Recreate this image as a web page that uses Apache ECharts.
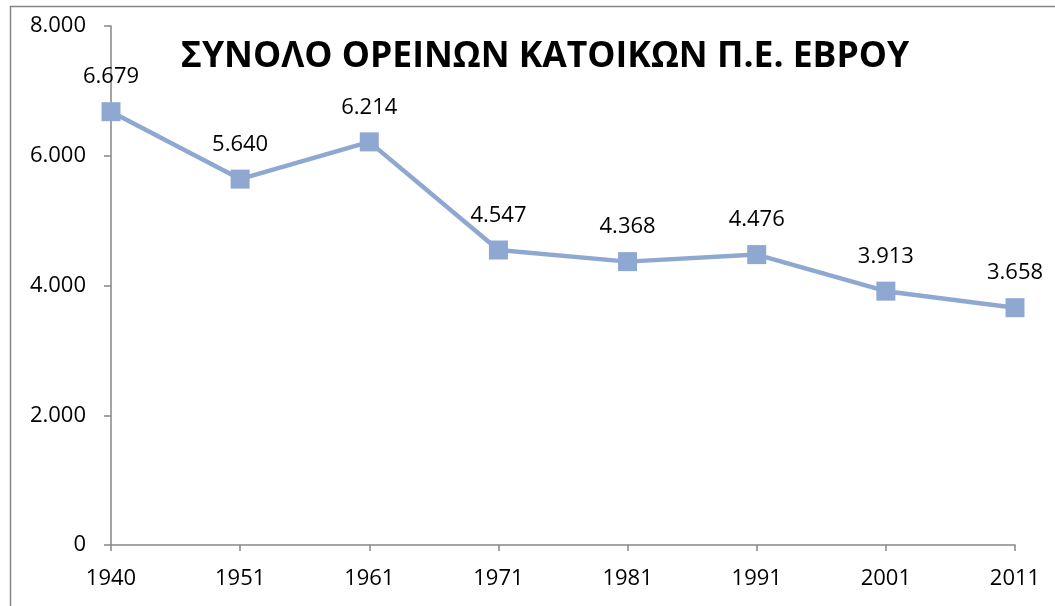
<!DOCTYPE html>
<html>
<head>
<meta charset="UTF-8">
<script type="text/javascript" src="https://cdn.jsdelivr.net/npm/echarts@6/dist/echarts.min.js"></script>
<title>ΣΥΝΟΛΟ ΟΡΕΙΝΩΝ ΚΑΤΟΙΚΩΝ</title>
<style>
	html, body { margin: 0; padding: 0; background: #fff; }
	#main { width: 1055px; height: 606px; }
</style>
<script>
	var years = ['1940', '1951', '1961', '1971', '1981', '1991', '2001', '2011'];
	var residents = [6679, 5640, 6214, 4547, 4368, 4476, 3913, 3658];
	var yTicks = [0, 2000, 4000, 6000, 8000];

	// 8000 -> 8.000 (Greek thousands separator)
	function fmt(v) {
		return String(v).replace(/\B(?=(\d{3})+(?!\d))/g, '.');
	}
</script>
</head>
<body>
<div id="main"></div>
<script>
	var myChart = echarts.init(document.getElementById('main'), null, { renderer: 'canvas' });
	var font = '"Open Sans", "DejaVu Sans", sans-serif';

	myChart.setOption({
		animation: false,
		textStyle: { fontFamily: font },
		title: {
			text: 'ΣΥΝΟΛΟ ΟΡΕΙΝΩΝ ΚΑΤΟΙΚΩΝ Π.Ε. ΕΒΡΟΥ',
			left: 540,
			textAlign: 'center',
			top: 34,
			textStyle: { fontFamily: font, fontWeight: 'bold', fontSize: 35.5, color: '#000' }
		},
		graphic: [{
			type: 'rect',
			shape: { x: 10.5, y: 6.5, width: 1060, height: 620 },
			style: { fill: null, stroke: '#868686', lineWidth: 1.5 },
			silent: true
		}],
		grid: {
			left: 111,
			right: 40,
			top: 26,
			bottom: 61
		},
		xAxis: {
			type: 'category',
			data: years,
			boundaryGap: false,
			axisLine: { lineStyle: { color: '#868686', width: 1.5 } },
			axisTick: { show: true, alignWithLabel: true, length: 6, lineStyle: { color: '#868686', width: 1.5 } },
			axisLabel: { color: '#000', fontSize: 22, margin: 23, fontFamily: font }
		},
		yAxis: {
			type: 'value',
			min: yTicks[0],
			max: yTicks[yTicks.length - 1],
			interval: 2000,
			splitLine: { show: false },
			axisLine: { show: true, lineStyle: { color: '#868686', width: 1.5 } },
			axisTick: { show: true, length: 7, lineStyle: { color: '#868686', width: 1.5 } },
			axisLabel: { color: '#000', fontSize: 22, margin: 25, fontFamily: font, formatter: fmt }
		},
		series: [{
			type: 'line',
			data: residents,
			symbol: 'rect',
			symbolSize: 19,
			lineStyle: { color: '#8EA8D2', width: 4.5 },
			itemStyle: { color: '#8EA8D2' },
			label: {
				show: true,
				position: 'top',
				distance: 14,
				color: '#000',
				fontSize: 22,
				fontFamily: font,
				formatter: function(p) { return fmt(p.value); }
			}
		}]
	});
</script>
</body>
</html>
